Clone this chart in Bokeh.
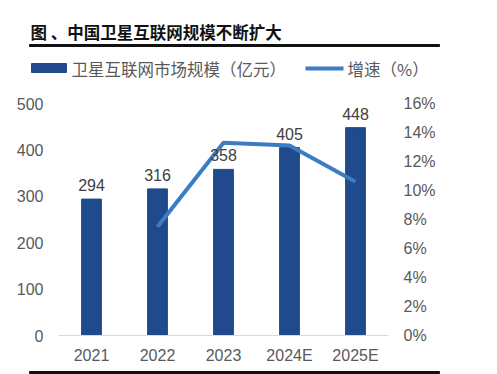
from bokeh.plotting import figure
from bokeh.layouts import column
from bokeh.models import (FactorRange, Range1d, LinearAxis, FixedTicker, PrintfTickFormatter,
                          ColumnDataSource, LabelSet)
from bokeh.core.properties import value
from bokeh.embed import file_html
from bokeh.resources import INLINE

years = ["2021", "2022", "2023", "2024E", "2025E"]
market = [294, 316, 358, 405, 448]
growth_years = ["2022", "2023", "2024E", "2025E"]
growth = [7.5, 13.3, 13.1, 10.6]
left_ticks = [0, 100, 200, 300, 400, 500]
right_ticks = [0, 2, 4, 6, 8, 10, 12, 14, 16]

title_text = "图 、中国卫星互联网规模不断扩大"
bar_name = "卫星互联网市场规模（亿元）"
line_name = "增速（%）"
source_text = "数据来源：SIA，国泰君安证券研究"

BAR = "#1F4A8C"
LINE = "#3B7CC2"
TXT = "#595959"
CJK = "Noto Sans CJK SC"
NUM = "Liberation Sans"
W = 497


def blank(height):
    f = figure(frame_width=W, frame_height=height, x_range=Range1d(0, W),
               y_range=Range1d(height, 0), x_axis_type=None, y_axis_type=None,
               output_backend="svg", toolbar_location=None, frame_align=False,
               min_border_left=0, min_border_right=0, min_border_top=0, min_border_bottom=0)
    f.outline_line_color = None
    f.grid.visible = False
    f.background_fill_color = "white"
    f.border_fill_color = "white"
    return f


# ---- header: title, rule, legend ----
HEAD = 80
h = blank(HEAD)
h.text(x=[30], y=[31], text=[title_text], text_font=value(CJK), text_font_size="16.5px",
       text_font_style="bold", text_color="#111111", text_baseline="middle")
h.quad(left=[29], right=[439], top=[44], bottom=[46], color="#111111")
h.quad(left=[31], right=[66], top=[63], bottom=[72], color=BAR)
h.text(x=[71], y=[68], text=[bar_name], text_font=value(CJK), text_font_size="16.5px",
       text_color=TXT, text_baseline="middle")
h.segment(x0=[305], y0=[68], x1=[343], y1=[68], line_color=LINE, line_width=4)
h.text(x=[347], y=[68], text=[line_name], text_font=value(CJK), text_font_size="16.5px",
       text_color=TXT, text_baseline="middle")

# ---- main chart ----
p = figure(frame_width=330, frame_height=232, x_range=FactorRange(*years, range_padding=0),
           y_range=Range1d(0, 500), output_backend="svg", toolbar_location=None,
           frame_align=False,
           min_border_left=58, min_border_right=109, min_border_top=23, min_border_bottom=31)
p.background_fill_color = "white"
p.border_fill_color = "white"
p.outline_line_color = None
p.grid.visible = False

p.extra_y_ranges = {"pct": Range1d(0, 16)}

src = ColumnDataSource(dict(x=years, y=market, t=[str(v) for v in market]))
p.vbar(x="x", top="y", width=0.3, source=src, color=BAR)
p.line(x=growth_years, y=growth, y_range_name="pct", line_color=LINE, line_width=4)

labels = LabelSet(x="x", y="y", text="t", source=src, text_align="center",
                  text_baseline="bottom", y_offset=8, text_font=value(NUM),
                  text_font_size="16px", text_color="#404040")
p.add_layout(labels)


def style_axis(ax, standoff):
    ax.major_tick_line_color = None
    ax.minor_tick_line_color = None
    ax.major_tick_out = 0
    ax.major_tick_in = 0
    ax.minor_tick_out = 0
    ax.minor_tick_in = 0
    ax.major_label_standoff = standoff
    ax.major_label_text_font = NUM
    ax.major_label_text_font_size = "16px"
    ax.major_label_text_color = TXT


p.yaxis.ticker = FixedTicker(ticks=left_ticks)
p.yaxis.axis_line_color = None
style_axis(p.yaxis[0], 15)

ra = LinearAxis(y_range_name="pct", ticker=FixedTicker(ticks=right_ticks),
                formatter=PrintfTickFormatter(format="%d%%"))
ra.axis_line_color = None
style_axis(ra, 15)
p.add_layout(ra, "right")

p.xaxis.axis_line_color = "#D9D9D9"
p.xaxis.axis_line_width = 1
style_axis(p.xaxis[0], 11)

# ---- footer: rule and (cut) source line ----
FOOT = 8
f = blank(FOOT)
f.quad(left=[29], right=[439], top=[1], bottom=[3], color="#111111")
f.text(x=[30], y=[3], text=[source_text], text_font=value(CJK), text_font_size="16px",
       text_color="#333333", text_baseline="top")

layout = column(h, p, f, spacing=0)
open("out.html", "w").write(file_html(layout, INLINE))
